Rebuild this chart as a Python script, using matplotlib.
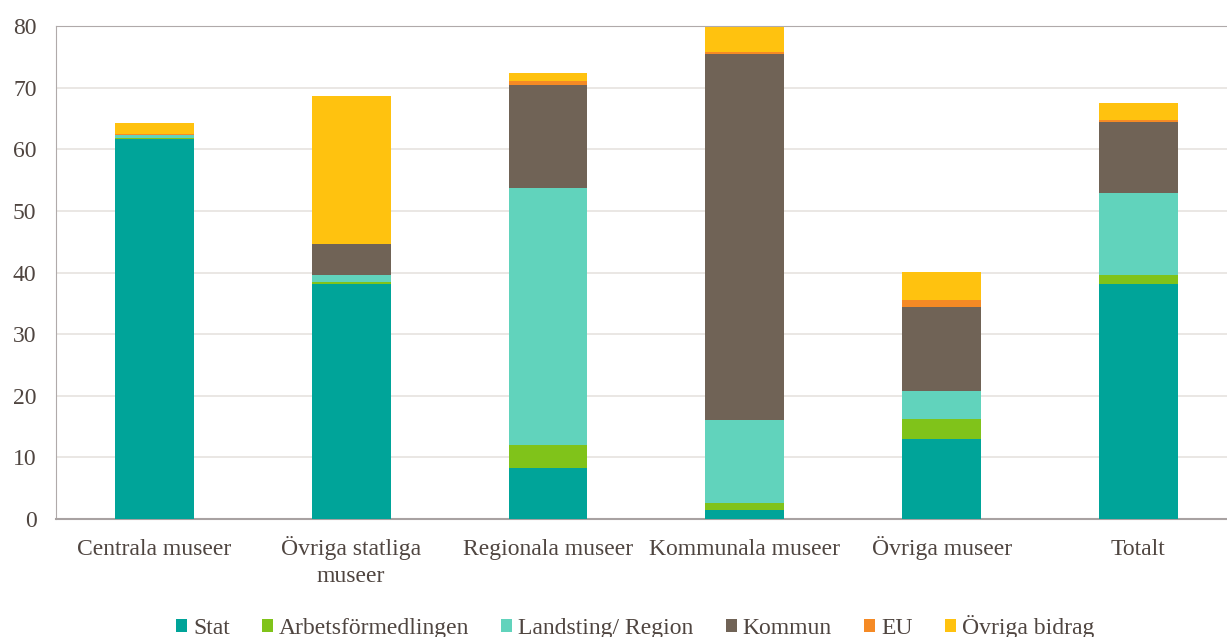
import numpy as np
import matplotlib.pyplot as plt
from matplotlib.transforms import blended_transform_factory, offset_copy

# Categories and series (share of income, %)
categories = ["Centrala museer", "Övriga statliga\nmuseer", "Regionala museer",
              "Kommunala museer", "Övriga museer", "Totalt"]
stat = [61.6, 38.1, 8.3, 1.45, 13.0, 38.2]
arbetsformedlingen = [0.25, 0.4, 3.7, 1.1, 3.2, 1.45]
landsting = [0.45, 1.15, 41.7, 13.55, 4.6, 13.3]
kommun = [0.05, 5.0, 16.7, 59.4, 13.65, 11.55]
eu = [0.1, 0.05, 0.7, 0.2, 1.05, 0.3]
ovriga = [1.8, 23.9, 1.3, 4.1, 4.6, 2.65]

series = [
    ("Stat", stat, "#00A499"),
    ("Arbetsförmedlingen", arbetsformedlingen, "#80C31A"),
    ("Landsting/ Region", landsting, "#61D3BC"),
    ("Kommun", kommun, "#706356"),
    ("EU", eu, "#F58A25"),
    ("Övriga bidrag", ovriga, "#FFC20F"),
]

txt = '#4F4540'
plt.rcParams['font.family'] = ['Liberation Serif', 'DejaVu Serif']

fig = plt.figure(figsize=(12.27, 6.37), dpi=100)
ax = fig.add_axes([0.0456, 0.1852, 0.9624, 0.7740])

x = np.arange(len(categories))
bottom = np.zeros(len(categories))
for name, vals, col in series:
    ax.bar(x, vals, 0.4, bottom=bottom, color=col, label=name, zorder=3)
    bottom += np.array(vals)

ax.set_xlim(-0.5, len(categories) - 0.5)
ax.set_ylim(0, 80)
ax.set_yticks(range(0, 81, 10))
ax.grid(axis='y', color='#E8E5E2', linewidth=1.3, zorder=0)
for s in ax.spines.values():
    s.set_color('#B0AAAA')
ax.spines['bottom'].set_color('#A8A2A2')
ax.spines['bottom'].set_linewidth(1.5)
ax.tick_params(length=0, labelsize=17, colors=txt)
ax.tick_params(axis='y', pad=14)
ax.set_xticks(x)
ax.set_xticklabels([])

# category labels: first line baseline 36 px below the axis
trans = offset_copy(blended_transform_factory(ax.transData, ax.transAxes),
                    fig=fig, y=-36, units='dots')
for xi, cat in zip(x, categories):
    for k, line in enumerate(cat.split("\n")):
        ax.text(xi, 0, line, transform=offset_copy(trans, fig=fig, y=-27 * k, units='dots'),
                ha='center', va='baseline', fontsize=17, color=txt)

fig.legend(*ax.get_legend_handles_labels(), loc='center',
           bbox_to_anchor=(0.5175, 0.016), ncol=6, frameon=False, fontsize=17,
           handlelength=0.47, handleheight=0.47, handletextpad=0.25,
           columnspacing=1.36, labelcolor=txt)

fig.savefig("out.png", dpi=100)
